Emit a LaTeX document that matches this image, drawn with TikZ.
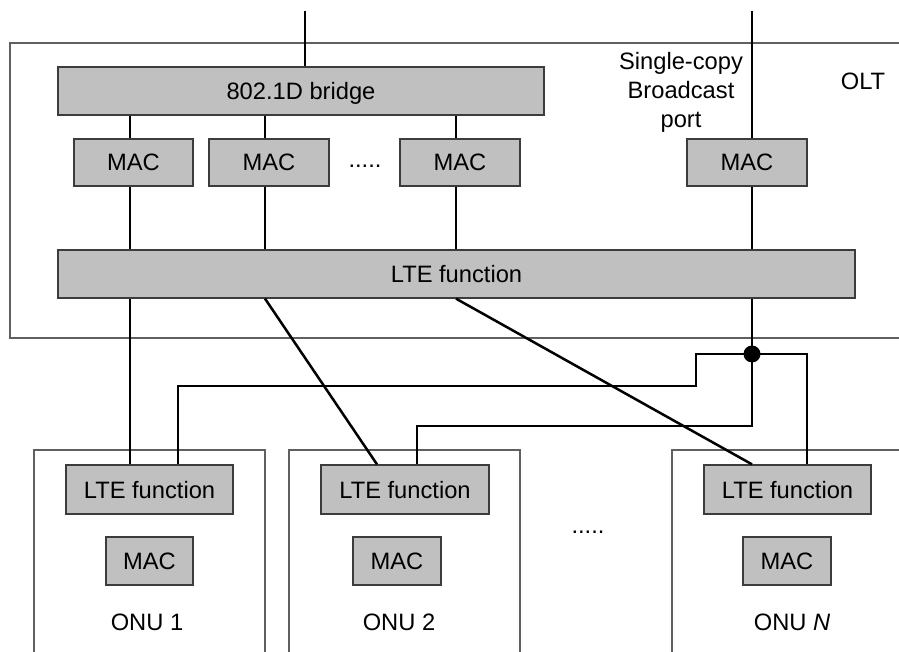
\documentclass[tikz,border=0pt]{standalone}
\usepackage{fontspec}
\setmainfont{Liberation Sans}
\definecolor{boxfill}{HTML}{C0C0C0}
\definecolor{boxline}{HTML}{3C3C3C}
\definecolor{frameline}{HTML}{606060}
\begin{document}
\begin{tikzpicture}[x=1pt,y=-1pt,
  gbox/.style={draw=boxline,line width=1.3pt,fill=boxfill,inner sep=0pt,
    text depth=0pt,font=\fontsize{23.7}{28}\selectfont},
  frame/.style={draw=frameline,line width=1.3pt},
  link/.style={draw=black,line width=2.5pt},
  lbl/.style={inner sep=0pt,font=\fontsize{23.7}{28}\selectfont}]
\useasboundingbox (0,0) rectangle (899,652);

% outer enclosures (OLT at the top, three ONUs below, open at the edges)
\draw[frame] (905,43) -- (10,43) -- (10,338) -- (905,338);
\draw[frame] (34,660) -- (34,450) -- (265,450) -- (265,660);
\draw[frame] (289,660) -- (289,450) -- (520,450) -- (520,660);
\draw[frame] (672,660) -- (672,450) -- (905,450);

% OLT
\node[gbox,minimum width=486,minimum height=48] (bridge) at (301,91) {802.1D bridge};
\node[gbox,minimum width=119,minimum height=47] (mac1) at (133.5,162.5) {MAC};
\node[gbox,minimum width=120,minimum height=47] (mac2) at (269,162.5) {MAC};
\node[gbox,minimum width=120,minimum height=47] (mac3) at (460,162.5) {MAC};
\node[gbox,minimum width=120,minimum height=47] (mac4) at (747,162.5) {MAC};
\node[lbl] (mdots) at (365,166) {.....};
\node[gbox,minimum width=797,minimum height=48] (lteo) at (456.5,274) {LTE function};
\node[lbl,align=center,font=\fontsize{23.7}{29}\selectfont] (bport) at (681,92) {Single-copy\\Broadcast\\port};
\node[lbl] (olt) at (863,81) {OLT};

% ONUs
\node[gbox,minimum width=167,minimum height=49] (lte1) at (149.5,489.5) {LTE function};
\node[gbox,minimum width=168,minimum height=49] (lte2) at (405,489.5) {LTE function};
\node[gbox,minimum width=167,minimum height=49] (lteN) at (787.5,489.5) {LTE function};
\node[gbox,minimum width=87,minimum height=48] (omac1) at (149.5,561) {MAC};
\node[gbox,minimum width=88,minimum height=48] (omac2) at (397,561) {MAC};
\node[gbox,minimum width=88,minimum height=48] (omacN) at (787,561) {MAC};
\node[lbl] (onu1) at (147,622) {ONU 1};
\node[lbl] (onu2) at (399,622) {ONU 2};
\node[lbl] (onuN) at (792,622) {ONU \textit{N}};
\node[lbl] (odots) at (588,532) {.....};

% connector columns
\coordinate (up1) at (305,11);
\coordinate (up2) at (752,11);
\coordinate (c1) at (130,0);
\coordinate (c2) at (265,0);
\coordinate (c3) at (456,0);
\coordinate (c4) at (752,0);
\coordinate (d2) at (377,0);
\coordinate (jn) at (752,354);
\coordinate (b2) at (417,426);
\coordinate (bN) at (807,354);
\coordinate (s1) at (696,386);
\coordinate (e1) at (178,0);

% uplinks
\draw[link] (up1) -- (up1 |- bridge.north);
\draw[link] (up2) -- (c4 |- mac4.north);

% bridge ports
\draw[link] (c1 |- bridge.south) -- (c1 |- mac1.north);
\draw[link] (c2 |- bridge.south) -- (c2 |- mac2.north);
\draw[link] (c3 |- bridge.south) -- (c3 |- mac3.north);

% MACs to LTE function
\draw[link] (c1 |- mac1.south) -- (c1 |- lteo.north);
\draw[link] (c2 |- mac2.south) -- (c2 |- lteo.north);
\draw[link] (c3 |- mac3.south) -- (c3 |- lteo.north);
\draw[link] (c4 |- mac4.south) -- (c4 |- lteo.north);

% unicast links to the ONUs
\draw[link] (c1 |- lteo.south) -- (c1 |- lte1.north);
\draw[link] (c2 |- lteo.south) -- (d2 |- lte2.north);
\draw[link] (c3 |- lteo.south) -- (c4 |- lteN.north);

% single-copy broadcast tree
\draw[link] (c4 |- lteo.south) -- (jn) -- (jn |- b2) -- (b2) -- (b2 |- lte2.north);
\draw[link] (jn) -- (bN) -- (bN |- lteN.north);
\draw[link] (jn) -- (s1 |- jn) -- (s1) -- (e1 |- s1) -- (e1 |- lte1.north);
\fill[black] (jn) circle (8.5);
\end{tikzpicture}
\end{document}
